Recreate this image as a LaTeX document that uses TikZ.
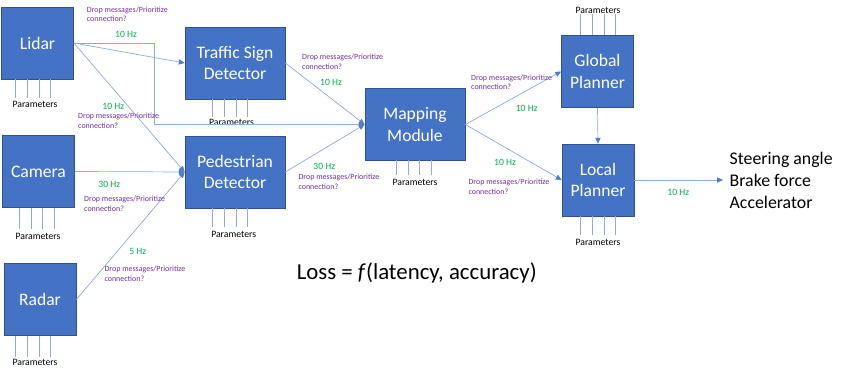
\documentclass[tikz,border=0pt]{standalone}
\usepackage{fontspec}
\setmainfont{Carlito}
\usepackage{tikz}
\usetikzlibrary{arrows.meta, positioning}

\definecolor{boxBlue}{HTML}{4472C4}
\definecolor{boxEdge}{HTML}{2F528F}
\definecolor{lineBlue}{HTML}{8FAADC}
\definecolor{rateGreen}{HTML}{00B050}
\definecolor{notePurple}{HTML}{7030A0}

% four parameter ticks: first x, top y, bottom y
\newcommand{\paramticks}[3]{%
  \foreach \dx in {0,11.7,23.4,35.1} \draw[tick] (#1+\dx,#2) -- (#1+\dx,#3);}

\begin{document}
\begin{tikzpicture}[x=0.3mm, y=-0.3mm,
  module/.style={rectangle, draw=boxEdge, fill=boxBlue, line width=0.6pt, text=white, minimum width=21.6mm, minimum height=21.6mm, align=center, inner sep=1pt, font=\fontsize{15}{18}\selectfont},
  wideModule/.style={module, minimum width=30mm},
  conn/.style={lineBlue, line width=0.6pt},
  arrow/.style={conn, -{Triangle[length=5pt, width=4.5pt, color=boxBlue!80!lineBlue]}},
  tick/.style={lineBlue, line width=0.6pt},
  param/.style={font=\fontsize{8.3}{9}\selectfont, inner sep=0pt},
  rate/.style={font=\fontsize{8.2}{9}\selectfont, text=rateGreen, inner sep=0pt},
  note/.style={font=\fontsize{6.8}{8.2}\selectfont, text=notePurple, align=left, anchor=west, inner sep=0pt}
]
\useasboundingbox (0,0) rectangle (846,373);
% modules
\node[module] (lidar) at (37.5,43) {Lidar};
\node[module] (camera) at (38.5,171.5) {Camera};
\node[module] (radar) at (40,299.5) {Radar};
\node[wideModule] (sign) at (235,63) {Traffic Sign\\Detector};
\node[wideModule] (pedestrian) at (235,172) {Pedestrian\\Detector};
\node[wideModule] (mapping) at (415,124.5) {Mapping\\Module};
\node[module] (global) at (597.5,71.5) {Global\\Planner};
\node[module] (local) at (598,180) {Local\\Planner};
\node[anchor=west, align=left, font=\fontsize{15.2}{18.7}\selectfont, inner xsep=5.5pt, inner ysep=0pt] (controls) at (723,180) {Steering angle\\Brake force\\Accelerator};
\node[font=\fontsize{19.5}{22}\selectfont] (loss) at (416.7,273.3) {Loss = \textit{f}(latency, accuracy)};
% parameters
\paramticks{15.7}{79}{98}
\node[param] (lidarParams) at (35,104) {Parameters};
\paramticks{19.3}{208}{229}
\node[param] (cameraParams) at (38,236) {Parameters};
\paramticks{15.7}{336}{357}
\node[param] (radarParams) at (35,362) {Parameters};
\paramticks{212.7}{99}{117}
\node[param] (signParams) at (231.5,122) {Parameters};
\paramticks{212.7}{208}{227}
\node[param] (pedestrianParams) at (233.7,234) {Parameters};
\paramticks{396.3}{160}{175}
\node[param] (mappingParams) at (415,182) {Parameters};
\paramticks{580.7}{14}{35}
\node[param] (globalParams) at (598,10) {Parameters};
\paramticks{580.7}{216}{235}
\node[param] (localParams) at (598,242) {Parameters};
% connections
\coordinate (bend) at (154.3,43);
\draw[arrow] (lidar.east) -- (sign.west);
\draw[arrow] (lidar.east) -- (bend) |- (mapping.west);
\draw[arrow] (lidar.east) -- (pedestrian.west);
\draw[arrow] (camera.east) -- (pedestrian.west);
\draw[arrow] (radar.east) -- (pedestrian.west);
\draw[arrow] (sign.east) -- (mapping.west);
\draw[arrow] (pedestrian.east) -- (mapping.west);
\draw[arrow] (mapping.east) -- (global.west);
\draw[arrow] (mapping.east) -- (local.west);
\draw[arrow] (global.south) -- (local.north);
\draw[arrow] (local.east) -- (controls.west);
% rates and notes
\node[note] (noteA) at (86.7,14.3) {Drop messages/Prioritize\\connection?};
\node[rate] (rateA) at (126,34.3) {10 Hz};
\node[rate] (rateB) at (113.3,106) {10 Hz};
\node[note] (noteB) at (78,120.5) {Drop messages/Prioritize\\connection?};
\node[rate] (rateC) at (109.3,184.3) {30 Hz};
\node[note] (noteC) at (84,203.8) {Drop messages/Prioritize\\connection?};
\node[rate] (rateD) at (137.7,251.7) {5 Hz};
\node[note] (noteD) at (104.3,274) {Drop messages/Prioritize\\connection?};
\node[note] (noteE) at (302,61.5) {Drop messages/Prioritize\\connection?};
\node[rate] (rateE) at (331,82.7) {10 Hz};
\node[rate] (rateF) at (324.3,166) {30 Hz};
\node[note] (noteF) at (298.3,182) {Drop messages/Prioritize\\connection?};
\node[note] (noteG) at (471,82.3) {Drop messages/Prioritize\\connection?};
\node[rate] (rateG) at (526.7,108.3) {10 Hz};
\node[rate] (rateH) at (505,162.7) {10 Hz};
\node[note] (noteH) at (468.3,187) {Drop messages/Prioritize\\connection?};
\node[rate] (rateI) at (678.3,192.3) {10 Hz};
\end{tikzpicture}
\end{document}
